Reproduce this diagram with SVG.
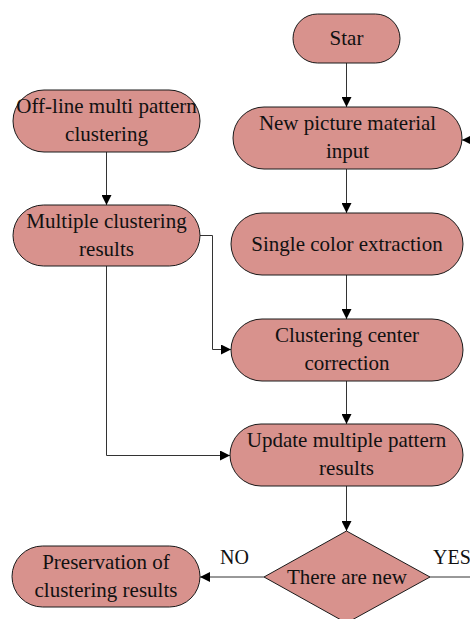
<svg xmlns="http://www.w3.org/2000/svg" width="470" height="619" viewBox="0 0 470 619">
<defs>
<style>
.n{fill:#D8928D;stroke:#1a1a1a;stroke-width:1}
.t{font-family:"Liberation Serif","Times New Roman",serif;font-size:21px;fill:#111;text-anchor:middle}
.l{font-family:"Liberation Serif","Times New Roman",serif;font-size:20px;fill:#111}
.c{fill:none;stroke:#333;stroke-width:1}
</style>
<marker id="ah" viewBox="0 0 10 10" refX="10" refY="5" markerWidth="10" markerHeight="10" markerUnits="userSpaceOnUse" orient="auto">
<path d="M0,0 L10,5 L0,10 z" fill="#000"/>
</marker>
</defs>
<rect width="470" height="619" fill="#fff"/>
<g id="connectors">
<path class="c" d="M346.5,63 V107" marker-end="url(#ah)"/>
<path class="c" d="M346.5,169 V213" marker-end="url(#ah)"/>
<path class="c" d="M346.5,275 V319" marker-end="url(#ah)"/>
<path class="c" d="M346.5,381 V424" marker-end="url(#ah)"/>
<path class="c" d="M346.5,486 V531" marker-end="url(#ah)"/>
<path class="c" d="M106.5,152 V205" marker-end="url(#ah)"/>
<path class="c" d="M200,235.5 H212.5 V349.5 H231" marker-end="url(#ah)"/>
<path class="c" d="M106.5,266 V455.5 H230" marker-end="url(#ah)"/>
<path class="c" d="M264,577 H200" marker-end="url(#ah)"/>
<path class="c" d="M430,577 H475 V140 H462" marker-end="url(#ah)"/>
<text class="l" x="220" y="564">NO</text>
<text class="l" x="433" y="564">YES</text>
</g>
<g id="start">
<rect class="n" x="293" y="14" width="107" height="49" rx="24.5"/>
<text class="t" x="346.5" y="45">Star</text>
</g>
<g id="new-picture">
<rect class="n" x="233" y="107" width="229" height="62" rx="31"/>
<text class="t" x="347.5" y="130">New picture material</text>
<text class="t" x="347.5" y="158">input</text>
</g>
<g id="offline">
<rect class="n" x="13" y="90" width="187" height="62" rx="31"/>
<text class="t" x="106.5" y="113">Off-line multi pattern</text>
<text class="t" x="106.5" y="141">clustering</text>
</g>
<g id="multiple">
<rect class="n" x="13" y="205" width="187" height="61" rx="30.5"/>
<text class="t" x="106.5" y="228">Multiple clustering</text>
<text class="t" x="106.5" y="256">results</text>
</g>
<g id="single">
<rect class="n" x="231" y="213" width="232" height="62" rx="31"/>
<text class="t" x="347" y="251">Single color extraction</text>
</g>
<g id="correction">
<rect class="n" x="231" y="319" width="232" height="62" rx="31"/>
<text class="t" x="347" y="342">Clustering center</text>
<text class="t" x="347" y="370">correction</text>
</g>
<g id="update">
<rect class="n" x="230" y="424" width="233" height="62" rx="31"/>
<text class="t" x="346.5" y="447">Update multiple pattern</text>
<text class="t" x="346.5" y="475">results</text>
</g>
<g id="decision">
<polygon class="n" points="346.5,531 430,577 346.5,623 264,577"/>
<text class="t" x="347" y="584">There are new</text>
</g>
<g id="preservation">
<rect class="n" x="12" y="546" width="188" height="61" rx="30.5"/>
<text class="t" x="106" y="569">Preservation of</text>
<text class="t" x="106" y="597">clustering results</text>
</g>
</svg>
